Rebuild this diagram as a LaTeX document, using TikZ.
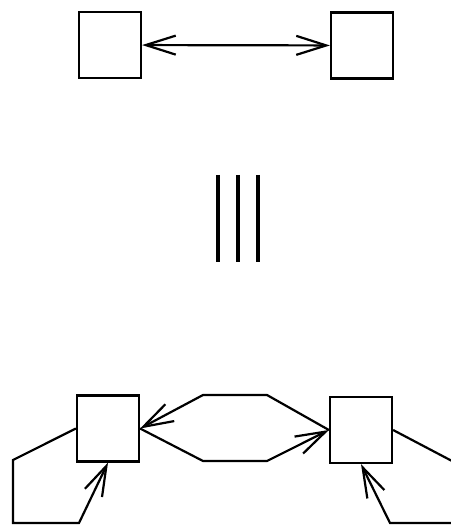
\documentclass[tikz,border=0pt]{standalone}
\usetikzlibrary{arrows.meta}
\begin{document}
\begin{tikzpicture}[x=1pt,y=-1pt,
  cell/.style={draw,line width=2.2pt,minimum width=62pt,minimum height=66pt,inner sep=0pt},
  link/.style={line width=2.2pt,line join=miter},
  barb/.style={-{Straight Barb[length=30pt,width=19pt,line width=2.2pt]}},
  barbs/.style={{Straight Barb[length=30pt,width=19pt,line width=2.2pt]}-{Straight Barb[length=30pt,width=19pt,line width=2.2pt]}},
  bar/.style={line width=3.8pt}]
\useasboundingbox[fill=white] (0,0) rectangle (450,526);

% upper pair joined by a two-way arrow
\node[cell] (tl) at (110,45) {};
\node[cell] (tr) at (362,45.5) {};
\draw[link,barbs] (tl) -- (tr);

% the three vertical bars between the two diagrams
\coordinate (b1t) at (218,175); \coordinate (b1b) at (218,262);
\coordinate (b2t) at (238,175); \coordinate (b2b) at (238,262);
\coordinate (b3t) at (258,175); \coordinate (b3b) at (258,262);
\draw[bar] (b1t) -- (b1b);
\draw[bar] (b2t) -- (b2b);
\draw[bar] (b3t) -- (b3b);

% lower pair
\node[cell] (bl) at (108,428.5) {};
\node[cell] (br) at (361,430) {};

% hexagonal loop between the lower boxes
\draw[link,barb] (br.west) -- (267,395) -- (203,395) -- (bl.east);
\draw[link,barb] (bl.east) -- (203,461) -- (267,461) -- (br.west);

% self loop on the left box
\draw[link,barb] (bl.west) -- (13,460) -- (13,523) -- (79,523) -- (bl.south);

% open ends leaving the right box
\coordinate (rout) at (452,461);
\coordinate (rin) at (452,523);
\draw[link] (br.east) -- (rout);
\draw[link,barb] (rin) -- (390,523) -- (br.south);
\end{tikzpicture}
\end{document}
